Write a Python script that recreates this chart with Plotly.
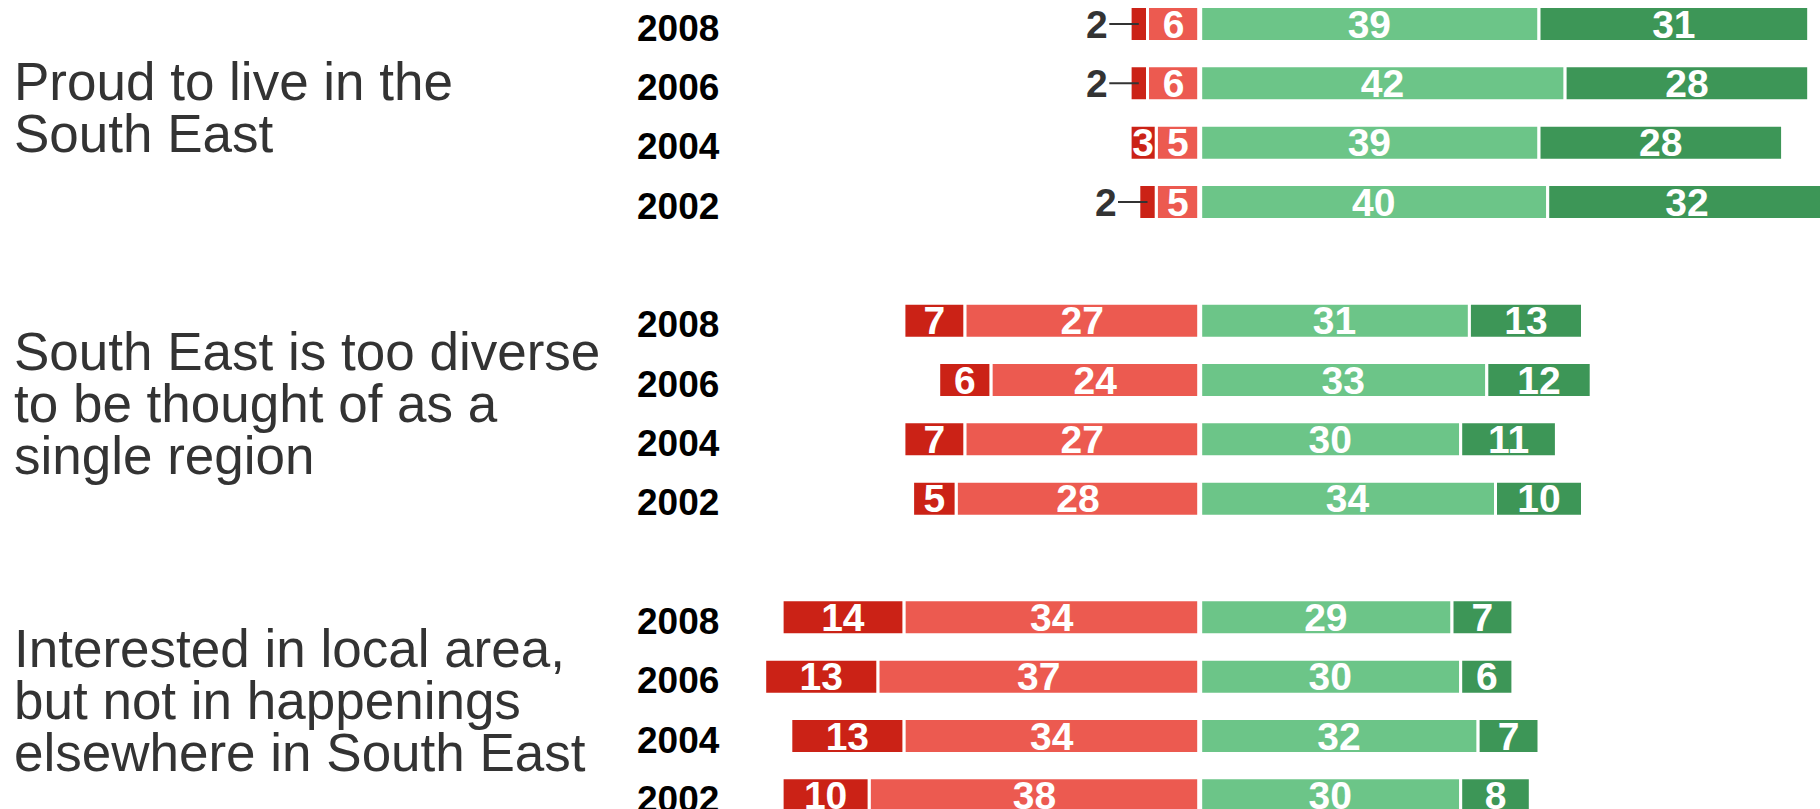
import plotly.graph_objects as go

# survey statements, each asked in four years
title_lines = [
    ["Proud to live in the", "South East"],
    ["South East is too diverse", "to be thought of as a", "single region"],
    ["Interested in local area,", "but not in happenings", "elsewhere in South East"],
]
years = ["2008", "2006", "2004", "2002"]

# percentages per statement (rows = years above)
strongly_disagree = [[2, 2, 3, 2], [7, 6, 7, 5], [14, 13, 13, 10]]
disagree = [[6, 6, 5, 5], [27, 24, 27, 28], [34, 37, 34, 38]]
agree = [[39, 42, 39, 40], [31, 33, 30, 34], [29, 30, 32, 30]]
strongly_agree = [[31, 28, 28, 32], [13, 12, 11, 10], [7, 6, 7, 8]]

colors = {
    "strongly_disagree": "#cb2216",
    "disagree": "#ec5a50",
    "agree": "#6cc588",
    "strongly_agree": "#3d9657",
}

FONT = "Liberation Sans"

# one row per year, an empty row between statements
rows = []
for g in range(len(title_lines)):
    for i in range(len(years)):
        rows.append(g * 5 + i)


def flat(lst):
    return [v for grp in lst for v in grp]


sd = flat(strongly_disagree)
d = flat(disagree)
a = flat(agree)
sa = flat(strongly_agree)


def labels(vals, min_inside=3):
    return [str(v) if v >= min_inside else "" for v in vals]


fig = go.Figure()

series = [
    ("disagree", [-v for v in d], labels(d)),
    ("strongly_disagree", [-v for v in sd], labels(sd)),
    ("agree", a, labels(a)),
    ("strongly_agree", sa, labels(sa)),
]
for name, vals, txt in series:
    fig.add_trace(go.Bar(
        x=vals, y=rows, orientation="h", name=name,
        width=0.59,
        marker=dict(color=colors[name], line=dict(color="white", width=3)),
        text=txt, textposition="inside", insidetextanchor="middle",
        textangle=0, constraintext="none",
        textfont=dict(family=FONT, size=39, color="white", weight="bold"),
        hoverinfo="skip",
    ))

annotations = []

# small values labelled outside with a leader line
for r, dv, sv in zip(rows, d, sd):
    if sv < 3:
        annotations.append(dict(
            x=-(dv + sv / 2), y=r, xref="x", yref="y",
            text=str(sv), showarrow=True, arrowhead=0, arrowwidth=2,
            arrowcolor="#333333", ax=-42, ay=0,
            font=dict(family=FONT, size=39, color="#333333", weight="bold"),
        ))

# year labels
for r, yr in zip(rows, years * len(title_lines)):
    annotations.append(dict(
        x=635 / 1820, y=r, xref="paper", yref="y", xanchor="left",
        yanchor="middle", yshift=-4, text=yr, showarrow=False,
        font=dict(family=FONT, size=37, color="#000000", weight="bold"),
    ))

# statement titles
for g, lines in enumerate(title_lines):
    mid = g * 5 + 1.5
    n = len(lines)
    for j, line in enumerate(lines):
        annotations.append(dict(
            x=0, y=mid, xref="paper", yref="y", xanchor="left",
            yanchor="middle", xshift=12,
            yshift=-(j - (n - 1) / 2) * 52 + 6,
            text=line, showarrow=False,
            font=dict(family=FONT, size=53, color="#333333"),
        ))

fig.update_layout(
    barmode="relative",
    width=1820, height=809,
    margin=dict(l=0, r=0, t=0, b=0),
    paper_bgcolor="white", plot_bgcolor="white",
    showlegend=False, hovermode=False,
    xaxis=dict(range=[-137.9, 71.3], visible=False),
    yaxis=dict(range=[13.23, -0.4045], visible=False),
    annotations=annotations,
    shapes=[dict(type="line", x0=0, x1=0, y0=0, y1=1, xref="x", yref="paper",
                 line=dict(color="white", width=5), layer="above")],
)

fig.write_html("out.html", config={"displayModeBar": False},
               post_script="document.body.style.margin='0px';")
